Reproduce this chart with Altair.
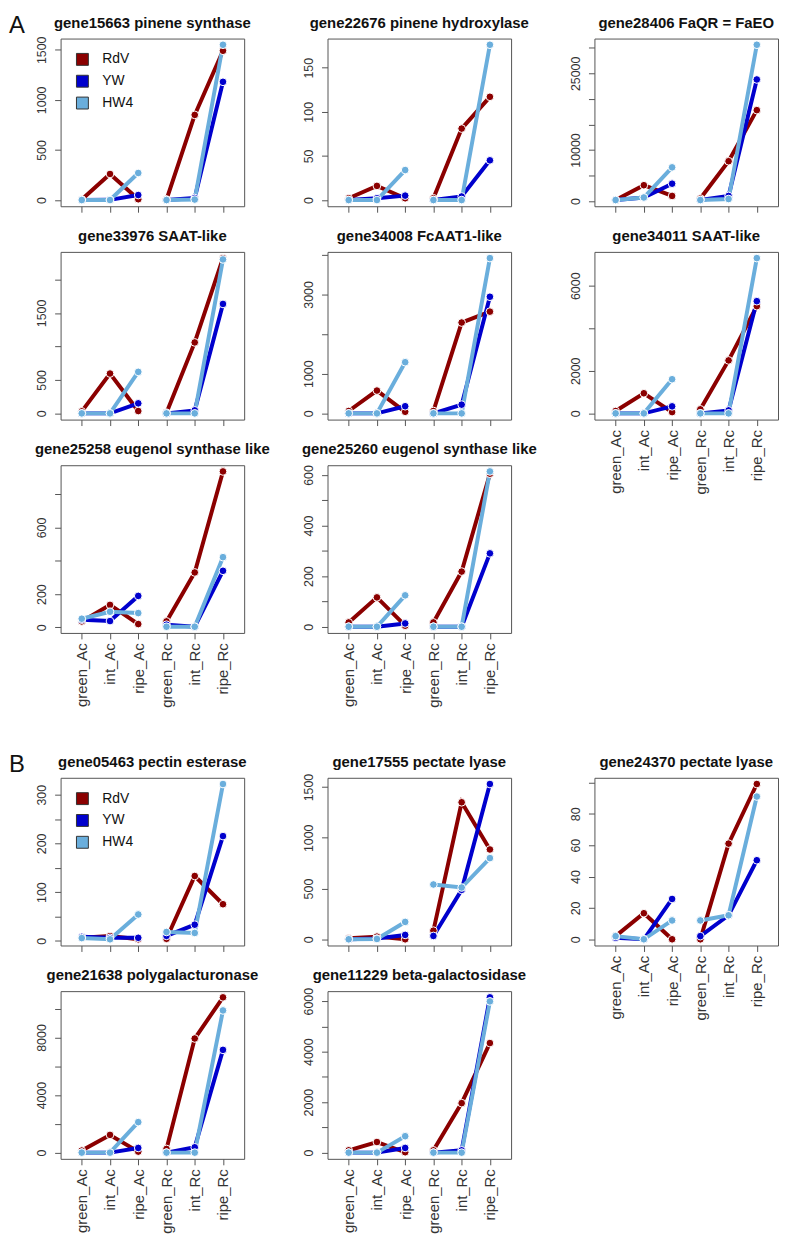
import json
import altair as alt
import pandas as pd

stages = ["green_Ac", "int_Ac", "ripe_Ac", "green_Rc", "int_Rc", "ripe_Rc"]
cultivars = ["RdV", "YW", "HW4"]
palette = ["#8B0000", "#0000CD", "#6AAEDC"]

# ---- Section A ----
g15663_RdV = [5, 260, 8, 5, 850, 1490]
g15663_YW = [0, 2, 50, 0, 20, 1180]
g15663_HW4 = [0, 0, 270, 0, 5, 1550]
g15663_ticks = [0, 500, 1000, 1500]
g15663_shown = [0, 500, 1000, 1500]

g22676_RdV = [2, 16, 2, 2, 81, 117]
g22676_YW = [0, 2, 5, 0, 4, 45]
g22676_HW4 = [0, 0, 34, 0, 0, 176]
g22676_ticks = [0, 50, 100, 150]
g22676_shown = [0, 50, 100, 150]

g28406_RdV = [200, 3100, 1000, 500, 7800, 17800]
g28406_YW = [200, 700, 3400, 200, 1000, 23800]
g28406_HW4 = [200, 700, 6600, 200, 400, 30600]
g28406_ticks = [0, 5000, 10000, 15000, 20000, 25000, 30000]
g28406_shown = [0, 10000, 25000]

g33976_RdV = [30, 595, 35, 10, 1060, 2320]
g33976_YW = [0, 0, 150, 0, 45, 1635]
g33976_HW4 = [0, 0, 620, 0, 0, 2300]
g33976_ticks = [0, 500, 1000, 1500, 2000]
g33976_shown = [0, 500, 1500]

g34008_RdV = [60, 575, 40, 60, 2290, 2565]
g34008_YW = [0, 0, 180, 0, 220, 2940]
g34008_HW4 = [0, 0, 1290, 0, 0, 3915]
g34008_ticks = [0, 1000, 2000, 3000, 4000]
g34008_shown = [0, 1000, 3000]

g34011_RdV = [110, 945, 60, 190, 2490, 5040]
g34011_YW = [0, 0, 330, 0, 140, 5275]
g34011_HW4 = [0, 0, 1605, 0, 0, 7300]
g34011_ticks = [0, 2000, 4000, 6000]
g34011_shown = [0, 2000, 6000]

g25258_RdV = [36, 135, 20, 36, 330, 937]
g25258_YW = [46, 38, 189, 16, 4, 340]
g25258_HW4 = [52, 94, 86, 4, 4, 422]
g25258_ticks = [0, 200, 400, 600, 800]
g25258_shown = [0, 200, 600]

g25260_RdV = [17, 116, 4, 17, 218, 605]
g25260_YW = [0, 0, 13, 0, 0, 290]
g25260_HW4 = [0, 0, 124, 0, 0, 614]
g25260_ticks = [0, 100, 200, 300, 400, 500, 600]
g25260_shown = [0, 200, 400, 600]

# ---- Section B ----
g05463_RdV = [6, 9.6, 3, 4, 133, 75]
g05463_YW = [8, 6, 6, 10, 33, 215]
g05463_HW4 = [5.5, 3, 54, 18, 16, 322]
g05463_ticks = [0, 50, 100, 150, 200, 250, 300]
g05463_shown = [0, 100, 200, 300]

g17555_RdV = [10, 26, 0, 85, 1350, 885]
g17555_YW = [0, 7, 43, 33, 487, 1530]
g17555_HW4 = [0, 3, 171, 540, 510, 800]
g17555_ticks = [0, 500, 1000, 1500]
g17555_shown = [0, 500, 1000, 1500]

g24370_RdV = [2, 16.6, 0, 0, 61, 99]
g24370_YW = [1, 0, 25.7, 2, 15.3, 50.4]
g24370_HW4 = [2, 0, 12, 12, 15.3, 91]
g24370_ticks = [0, 20, 40, 60, 80, 100]
g24370_shown = [0, 20, 40, 60, 80]

g21638_RdV = [140, 1230, 70, 255, 7930, 10790]
g21638_YW = [0, 0, 325, 0, 370, 7140]
g21638_HW4 = [0, 0, 2120, 0, 0, 9880]
g21638_ticks = [0, 2000, 4000, 6000, 8000, 10000]
g21638_shown = [0, 4000, 8000]

g11229_RdV = [90, 420, 15, 90, 1960, 4340]
g11229_YW = [0, 0, 185, 0, 90, 6150]
g11229_HW4 = [0, 0, 650, 0, 0, 5990]
g11229_ticks = [0, 1000, 2000, 3000, 4000, 5000, 6000]
g11229_shown = [0, 2000, 4000, 6000]

FONT = "Liberation Sans"
W = 185
H = 169


def panel(title, rdv, yw, hw4, ticks, shown, xlabels=False, legend=False, letter=None):
    rows = []
    for cv, vals in zip(cultivars, [rdv, yw, hw4]):
        for i, (st, v) in enumerate(zip(stages, vals)):
            rows.append({"stage": st, "cultivar": cv, "value": v,
                         "seg": cv + "_" + st[-2:], "idx": i})
    df = pd.DataFrame(rows)
    allv = rdv + yw + hw4
    mn, mx = min(allv), max(allv)
    pad = 0.04 * (mx - mn)
    dom = [mn - pad, mx + pad]
    lab_expr = "indexof(" + json.dumps(shown) + ", datum.value) >= 0 ? datum.label : ''"
    x = alt.X("stage:N", sort=stages,
              scale=alt.Scale(type="point", domain=stages, padding=0.75),
              axis=alt.Axis(title=None, labels=xlabels, labelAngle=-90,
                            labelFontSize=15, labelPadding=4, labelOverlap=False))
    y = alt.Y("value:Q", scale=alt.Scale(domain=dom, nice=False, zero=False),
              axis=alt.Axis(title=None, values=ticks, labelExpr=lab_expr, format="d",
                            labelAngle=-90, labelFontSize=12.5, labelPadding=6,
                            labelOverlap=False))
    color = alt.Color("cultivar:N", scale=alt.Scale(domain=cultivars, range=palette),
                      legend=None)
    base = alt.Chart(df)
    lines = base.mark_line(strokeWidth=4).encode(
        x=x, y=y, color=color, detail="seg:N", order="idx:Q")
    pts = base.mark_circle(size=60, opacity=1, stroke="white", strokeWidth=1).encode(
        x=x, y=y, color=color)
    ttl = alt.Chart(pd.DataFrame({"t": [title]})).mark_text(
        font=FONT, fontSize=15, fontWeight="bold", align="center",
        baseline="alphabetic", color="#111").encode(
        text="t:N", x=alt.value(W / 2), y=alt.value(-11))
    layers = [lines, pts, ttl]
    if legend:
        leg = alt.Chart(pd.DataFrame({"cultivar": cultivars})).transform_filter(
            "false").mark_square(size=144, filled=True, stroke="#333", strokeWidth=1,
                                 opacity=1).encode(
            fill=alt.Fill("cultivar:N",
                          scale=alt.Scale(domain=cultivars, range=palette),
                          legend=alt.Legend(orient="none", legendX=15, legendY=14,
                                            title=None, symbolType="square",
                                            symbolSize=144, symbolStrokeColor="#333",
                                            symbolStrokeWidth=1, labelFontSize=14,
                                            labelFont=FONT, labelColor="#111",
                                            labelOffset=13, rowPadding=6,
                                            padding=0)))
        layers.append(leg)
    if letter:
        lt = alt.Chart(pd.DataFrame({"letter": [letter]})).mark_text(
            font=FONT, fontSize=24, align="left", baseline="top", color="#111").encode(
            text="letter:N", x=alt.value(-52), y=alt.value(-25))
        layers.append(lt)
    return alt.layer(*layers).properties(width=W, height=H)


def blank(h):
    return alt.Chart(pd.DataFrame({"b": [""]})).mark_text(opacity=0).encode(
        text="b:N", x=alt.value(0), y=alt.value(0)).properties(
        width=W, height=h, view=alt.ViewBackground(strokeOpacity=0))


p1 = panel("gene15663 pinene synthase", g15663_RdV, g15663_YW, g15663_HW4,
           g15663_ticks, g15663_shown, legend=True, letter="A")
p2 = panel("gene22676 pinene hydroxylase", g22676_RdV, g22676_YW, g22676_HW4,
           g22676_ticks, g22676_shown)
p3 = panel("gene28406 FaQR = FaEO", g28406_RdV, g28406_YW, g28406_HW4,
           g28406_ticks, g28406_shown)
p4 = panel("gene33976 SAAT-like", g33976_RdV, g33976_YW, g33976_HW4,
           g33976_ticks, g33976_shown)
p5 = panel("gene34008 FcAAT1-like", g34008_RdV, g34008_YW, g34008_HW4,
           g34008_ticks, g34008_shown)
p6 = panel("gene34011 SAAT-like", g34011_RdV, g34011_YW, g34011_HW4,
           g34011_ticks, g34011_shown, xlabels=True)
p7 = panel("gene25258 eugenol synthase like", g25258_RdV, g25258_YW, g25258_HW4,
           g25258_ticks, g25258_shown, xlabels=True)
p8 = panel("gene25260 eugenol synthase like", g25260_RdV, g25260_YW, g25260_HW4,
           g25260_ticks, g25260_shown, xlabels=True)

p9 = panel("gene05463 pectin esterase", g05463_RdV, g05463_YW, g05463_HW4,
           g05463_ticks, g05463_shown, legend=True, letter="B")
p10 = panel("gene17555 pectate lyase", g17555_RdV, g17555_YW, g17555_HW4,
            g17555_ticks, g17555_shown)
p11 = panel("gene24370 pectate lyase", g24370_RdV, g24370_YW, g24370_HW4,
            g24370_ticks, g24370_shown, xlabels=True)
p12 = panel("gene21638 polygalacturonase", g21638_RdV, g21638_YW, g21638_HW4,
            g21638_ticks, g21638_shown, xlabels=True)
p13 = panel("gene11229 beta-galactosidase", g11229_RdV, g11229_YW, g11229_HW4,
            g11229_ticks, g11229_shown, xlabels=True)

cells = [p1, p2, p3,
         p4, p5, p6,
         p7, p8, blank(H),
         blank(54), blank(54), blank(54),
         p9, p10, p11,
         p12, p13, blank(H)]

chart = alt.concat(*cells, columns=3, spacing={"row": 46, "column": 84},
                   bounds="flush", padding=0).resolve_scale(
    x="independent", y="independent", fill="independent").resolve_legend(
    fill="independent").configure(font=FONT).configure_view(
    stroke="#555", strokeWidth=1).configure_axis(
    domain=False, grid=False, tickColor="#555", tickSize=6, labelFont=FONT,
    labelColor="#333")

chart.save("out.html", embed_options={"renderer": "svg", "actions": False})
